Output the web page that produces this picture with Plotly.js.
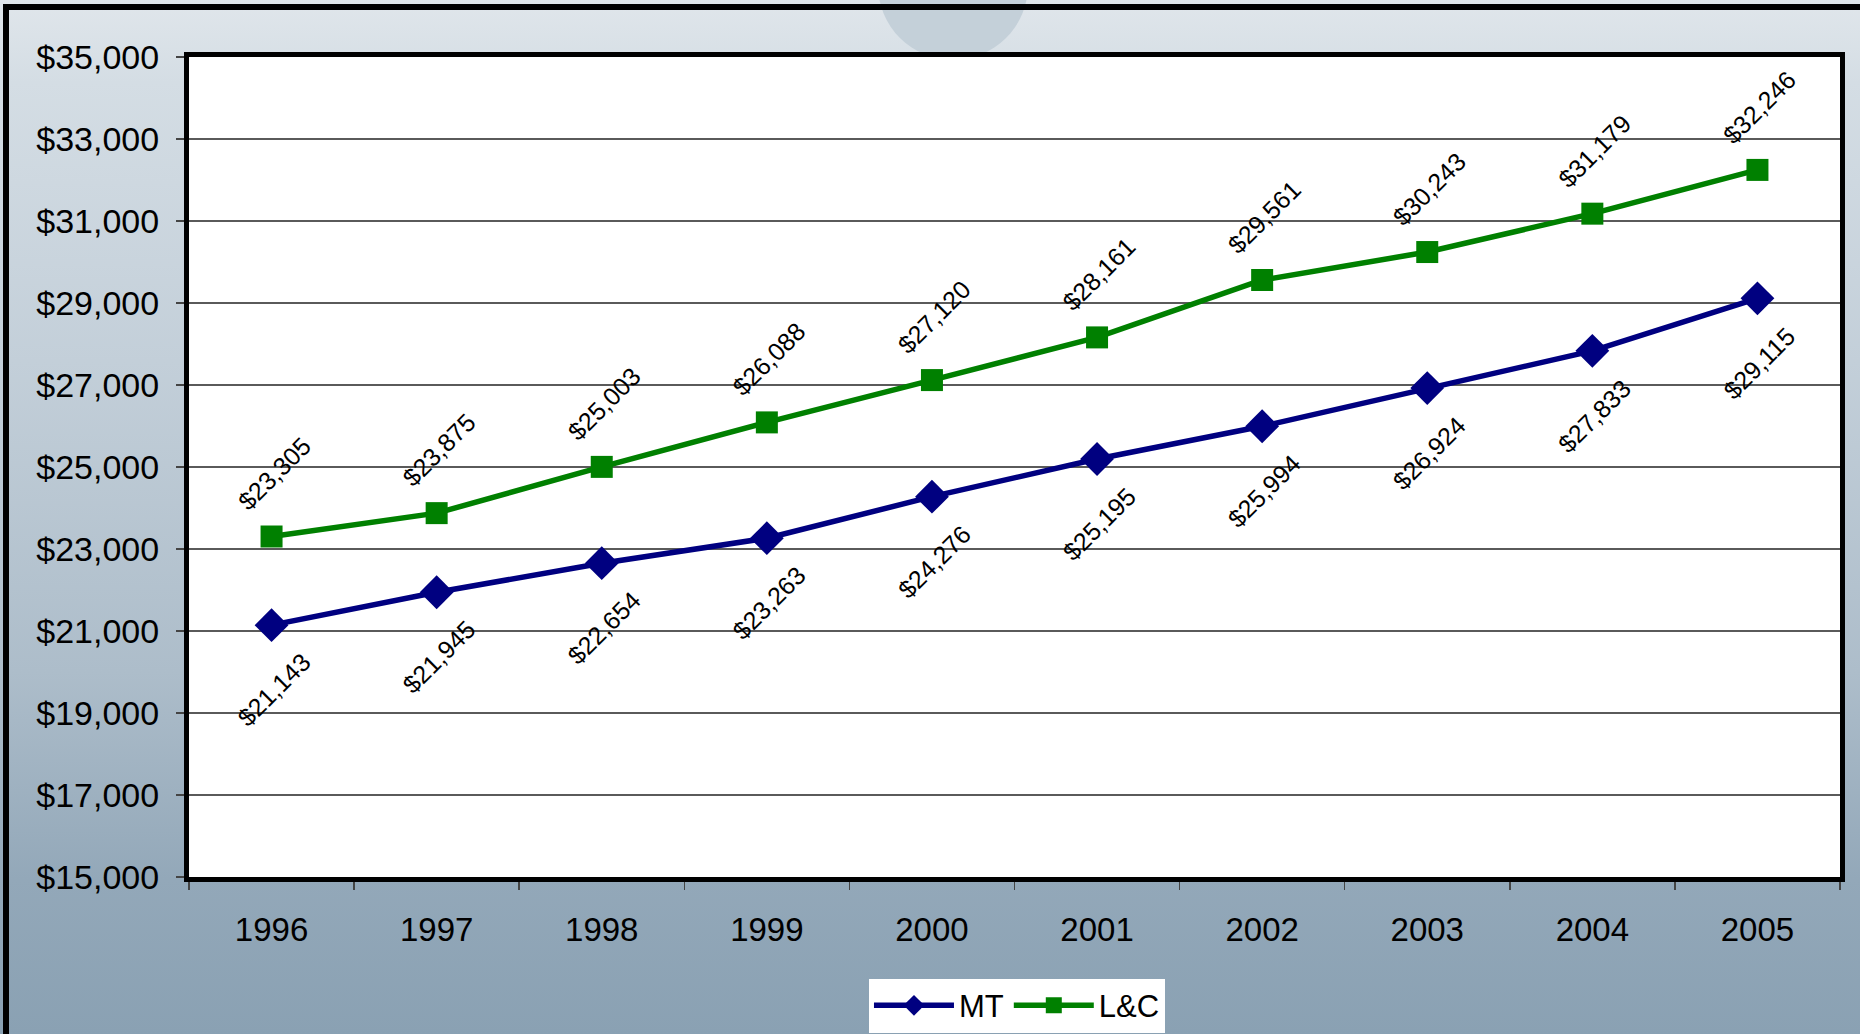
<!DOCTYPE html>
<html>
<head>
<meta charset="utf-8">
<script src="https://cdn.plot.ly/plotly-3.0.1.min.js"></script>
<style>
  html, body { margin: 0; padding: 0; width: 1860px; height: 1034px; overflow: hidden; }
  body { background: linear-gradient(180deg, #e0e6eb 0%, #d4dde4 8%, #c3cfd9 35%, #adbdca 65%, #93a8b9 85%, #8aa1b3 100%); position: relative; }
  #frame { position: absolute; left: 3px; top: 4px; width: 1900px; height: 1100px; border-left: 6px solid #000; border-top: 6px solid #000; box-sizing: border-box; }
  #circ { position: absolute; left: 878px; top: -90px; width: 150px; height: 150px; border-radius: 50%; background: #c4d0d9; }
  #chart { position: absolute; left: 0; top: 0; width: 1860px; height: 1034px; }
</style>
</head>
<body>
<div id="circ"></div>
<div id="frame"></div>
<div id="chart"></div>
<script>
const years = ['1996','1997','1998','1999','2000','2001','2002','2003','2004','2005'];
const mtValues = [21143, 21945, 22654, 23263, 24276, 25195, 25994, 26924, 27833, 29115];
const lcValues = [23305, 23875, 25003, 26088, 27120, 28161, 29561, 30243, 31179, 32246];
const yTickValues = [15000, 17000, 19000, 21000, 23000, 25000, 27000, 29000, 31000, 33000, 35000];

const DOLLAR = String.fromCharCode(36);
const FONT = 'Arial, Liberation Sans, sans-serif';
function fmt(v) { return DOLLAR + v.toLocaleString('en-US'); }
const yTickText = yTickValues.map(fmt);

const traces = [
  { name: 'MT', x: years, y: mtValues, type: 'scatter', mode: 'lines+markers',
    line: { color: '#000080', width: 5.5 }, marker: { symbol: 'diamond', size: 26, color: '#000080' } },
  { name: 'L&C', x: years, y: lcValues, type: 'scatter', mode: 'lines+markers',
    line: { color: '#008000', width: 5.5 }, marker: { symbol: 'square', size: 22, color: '#008000' } }
];

const annotations = [];
for (let i = 0; i < years.length; i++) {
  annotations.push({ x: i, y: lcValues[i], xref: 'x', yref: 'y', text: fmt(lcValues[i]),
    showarrow: false, textangle: -45, yshift: 63, xshift: 2,
    font: { family: FONT, size: 25, color: '#000' } });
  annotations.push({ x: i, y: mtValues[i], xref: 'x', yref: 'y', text: fmt(mtValues[i]),
    showarrow: false, textangle: -45, yshift: -65, xshift: 2,
    font: { family: FONT, size: 25, color: '#000' } });
}

const layout = {
  width: 1860, height: 1034,
  margin: { l: 189, r: 20, t: 57, b: 157, autoexpand: false },
  paper_bgcolor: 'rgba(0,0,0,0)',
  plot_bgcolor: '#ffffff',
  font: { family: FONT, color: '#000' },
  showlegend: true,
  legend: {
    orientation: 'h', x: 0.5015, xanchor: 'center', y: -0.124, yanchor: 'top',
    bgcolor: '#ffffff', borderwidth: 0, font: { family: FONT, size: 31, color: '#000' },
    itemwidth: 80, itemsizing: 'trace'
  },
  xaxis: {
    type: 'category', range: [-0.5, 9.5], autorange: false,
    tickson: 'boundaries', ticks: 'outside', ticklen: 8, tickcolor: '#444', tickwidth: 1.5,
    showgrid: false, showline: true, linecolor: '#000', linewidth: 5, mirror: true,
    tickfont: { family: FONT, size: 33, color: '#000' }, tickangle: 0, ticklabelstandoff: 19,
    zeroline: false, automargin: false
  },
  yaxis: {
    range: [15000, 35000], autorange: false, tickmode: 'array', tickvals: yTickValues, ticktext: yTickText,
    ticks: 'outside', ticklen: 8, tickcolor: '#444', tickwidth: 1.5,
    showgrid: true, gridcolor: '#5a5a5a', gridwidth: 1.5,
    showline: true, linecolor: '#000', linewidth: 5, mirror: true,
    tickfont: { family: FONT, size: 34, color: '#000' }, ticklabelstandoff: 10,
    zeroline: false, automargin: false
  },
  annotations: annotations
};

Plotly.newPlot('chart', traces, layout, { displayModeBar: false, staticPlot: true });
</script>
</body>
</html>
